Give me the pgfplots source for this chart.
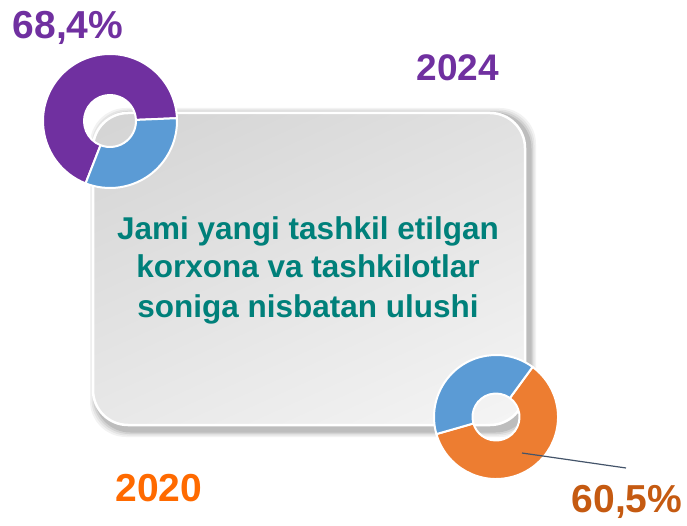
\documentclass[border=0pt]{standalone}
\usepackage{pgfplots}
\pgfplotsset{compat=1.18}
\usepackage{pgfplotstable}
\usetikzlibrary{shadings}
\usepackage{fontspec}
\setmainfont{Liberation Sans}
\definecolor{cPurple}{HTML}{7030A0}
\definecolor{cBlue}{HTML}{5B9BD5}
\definecolor{cOrange}{HTML}{ED7D31}
\definecolor{cOrTxt}{HTML}{FF6A00}
\definecolor{cDkOr}{HTML}{C55A11}
\definecolor{cTeal}{HTML}{00807A}
\definecolor{cLine}{HTML}{44546A}
\pgfplotstableread{
year share
2024 68.4
2020 60.5
}\shares
\pgfplotstablegetelem{0}{share}\of\shares \let\valA\pgfplotsretval
\pgfplotstablegetelem{1}{share}\of\shares \let\valB\pgfplotsretval
% annular sector: cx, cy, R, r, start, end, color
\newcommand{\sector}[7]{%
  \filldraw[fill=#7, draw=white, line width=2pt, line join=round]
    (axis cs:#1,#2) ++(#5:#3pt) arc[start angle=#5, end angle=#6, radius=#3pt]
    -- ++(#6+180:#3pt-#4pt) arc[start angle=#6, end angle=#5, radius=#4pt] -- cycle;}
\newcommand{\shadowlayer}[2]{%
  \fill[black, opacity=#2, rounded corners=36pt]
    (axis cs:{96-#1},{94-#1}) rectangle (axis cs:{530+#1},{411+#1});}
\begin{document}
\begin{tikzpicture}
\begin{axis}[width=687pt, height=525pt, scale only axis, hide axis,
  xmin=0, xmax=687, ymin=0, ymax=525, clip=false]
\coordinate (BL) at (axis cs:0,0);
\coordinate (TR) at (axis cs:687,525);
% box shadow
\shadowlayer{6}{0.05}
\shadowlayer{4.5}{0.06}
\shadowlayer{3}{0.08}
\shadowlayer{1.5}{0.1}
% box
\shade[rounded corners=35pt, upper left=black!17, upper right=black!12,
  lower left=black!9, lower right=black!4]
  (axis cs:93,100) rectangle (axis cs:525,412);
\draw[white, line width=2.5pt, rounded corners=35pt]
  (axis cs:93,100) rectangle (axis cs:525,412);
% donut 2024
\pgfmathsetmacro{\aA}{2.4}
\pgfmathsetmacro{\bA}{2.4+3.6*\valA}
\pgfmathsetmacro{\cA}{2.4+360}
\sector{110}{404}{67}{26}{\aA}{\bA}{cPurple}
\sector{110}{404}{67}{26}{\bA}{\cA}{cBlue}
% donut 2020
\pgfmathsetmacro{\aB}{196}
\pgfmathsetmacro{\bB}{196+3.6*\valB}
\pgfmathsetmacro{\cB}{196+360}
\sector{496}{108}{62}{23.5}{\aB}{\bB}{cOrange}
\sector{496}{108}{62}{23.5}{\bB}{\cB}{cBlue}
% leader line
\draw[cLine, line width=1.2pt] (axis cs:522,72) -- (axis cs:626,57);
% labels
\node[font=\fontsize{39}{39}\selectfont\bfseries, text=cPurple] at (axis cs:68,497) {68,4\%};
\node[font=\fontsize{37}{37}\selectfont\bfseries, text=cPurple] at (axis cs:458,457) {2024};
\node[font=\fontsize{39}{39}\selectfont\bfseries, text=cOrTxt] at (axis cs:159,37) {2020};
\node[font=\fontsize{39}{39}\selectfont\bfseries, text=cDkOr] at (axis cs:627,23) {60,5\%};
\node[font=\fontsize{31.5}{31.5}\selectfont\bfseries, text=cTeal, anchor=base] at (axis cs:308,285) {Jami yangi tashkil etilgan};
\node[font=\fontsize{31.5}{31.5}\selectfont\bfseries, text=cTeal, anchor=base] at (axis cs:308,247) {korxona va tashkilotlar};
\node[font=\fontsize{31.5}{31.5}\selectfont\bfseries, text=cTeal, anchor=base] at (axis cs:308,207) {soniga nisbatan ulushi};
\end{axis}
\pgfresetboundingbox
\useasboundingbox (BL) rectangle (TR);
\end{tikzpicture}
\end{document}
